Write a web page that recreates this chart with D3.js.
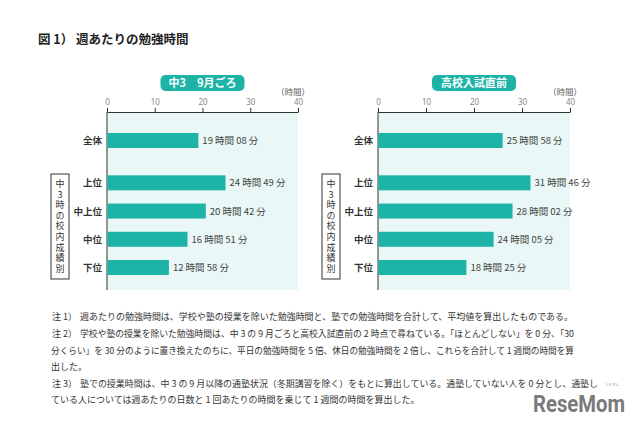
<!DOCTYPE html>
<html><head><meta charset="utf-8">
<script src="https://cdn.jsdelivr.net/npm/d3@7"></script>
<style>
body{margin:0;background:#fff;}
svg{font-family:"Noto Sans CJK JP","Noto Sans",sans-serif;}
</style></head>
<body><svg id="c" width="640" height="426"></svg>
<script>
const categories = ["全体","上位","中上位","中位","下位"];
const categoryPos = [0, 1.5, 2.5, 3.5, 4.5];
const septHours = [19,24,20,16,12];
const septMinutes = [8,49,42,51,58];
const examHours = [25,31,28,24,18];
const examMinutes = [58,46,2,5,25];
const panelTitles = ["中3　9月ごろ","高校入試直前"];
const tickValues = [0,10,20,30,40];
const groupLabel = "中3時の校内成績別";
const notes = [
  ["注 1）","週あたりの勉強時間は、学校や塾の授業を除いた勉強時間と、塾での勉強時間を合計して、平均値を算出したものである。"],
  ["注 2）","学校や塾の授業を除いた勉強時間は、中 3 の 9 月ごろと高校入試直前の 2 時点で尋ねている。「ほとんどしない」を 0 分、「30"],
  ["","分くらい」を 30 分のように置き換えたのちに、平日の勉強時間を 5 倍、休日の勉強時間を 2 倍し、これらを合計して 1 週間の時間を算"],
  ["","出した。"],
  ["注 3）","塾での授業時間は、中 3 の 9 月以降の通塾状況（冬期講習を除く）をもとに算出している。通塾していない人を 0 分とし、通塾し"],
  ["","ている人については週あたりの日数と 1 回あたりの時間を乗じて 1 週間の時間を算出した。"]
];
const noteEnds = [573,574,574,null,598,null];

const svg = d3.select("#c");
const TEAL = "#1db3a6";

svg.append("text").attr("x",38).attr("y",44).attr("font-size",12.5).attr("font-weight","bold")
  .attr("fill","#222").text("図 1）  週あたりの勉強時間");

function pad(m){return (m<10?"0":"")+m;}

function panel(x0, x1, hours, minutes, title){
  const g = svg.append("g");
  const x = d3.scaleLinear().domain([0,40]).range([x0,x1]);
  const y = d3.scaleLinear().domain([0,4.5]).range([133,260]);
  const top = 112, bottom = 290, bh = 15;
  const vals = hours.map((h,i)=>h+minutes[i]/60);
  g.append("rect").attr("x",x(0)).attr("y",top).attr("width",x(40)-x(0)).attr("height",bottom-top).attr("fill","#e9f7f6");
  const pc = (x(0)+x(40))/2;
  g.append("rect").attr("x",pc-42).attr("y",75).attr("width",84).attr("height",16).attr("rx",5).attr("fill",TEAL);
  g.append("text").attr("x",pc).attr("y",87).attr("text-anchor","middle").attr("font-size",11).attr("font-weight","bold").attr("fill","#fff").text(title);
  g.append("text").attr("x",x(40)+12).attr("y",95).attr("text-anchor","end").attr("font-size",8.5).attr("fill","#666").text("（時間）");
  const ax = g.append("g").attr("transform",`translate(0,${top})`)
    .call(d3.axisTop(x).tickValues(tickValues).tickSize(4).tickSizeOuter(0).tickPadding(3));
  ax.select(".domain").attr("stroke","#333");
  ax.selectAll(".tick line").attr("stroke","#333");
  ax.selectAll(".tick text").attr("font-size",8).attr("fill","#888").attr("font-family","Noto Sans, sans-serif");
  g.append("line").attr("x1",x(0)).attr("x2",x(0)).attr("y1",top).attr("y2",bottom).attr("stroke","#333");
  g.selectAll(".bar").data(vals).enter().append("rect")
    .attr("x",x(0)+0.5).attr("y",(d,i)=>y(categoryPos[i])).attr("width",d=>x(d)-x(0)-0.5).attr("height",bh).attr("fill",TEAL);
  g.selectAll(".vl").data(vals).enter().append("text")
    .attr("x",d=>x(d)+4).attr("y",(d,i)=>y(categoryPos[i])+bh/2+3.5).attr("font-size",9.5).attr("fill","#444")
    .text((d,i)=>`${hours[i]} 時間 ${pad(minutes[i])} 分`);
  g.selectAll(".cl").data(categories).enter().append("text")
    .attr("x",x(0)-5).attr("y",(d,i)=>y(categoryPos[i])+bh/2+3.5).attr("text-anchor","end").attr("font-size",9.5).attr("font-weight","bold").attr("fill","#333")
    .text(d=>d);
  const bx = x(0)-56;
  g.append("rect").attr("x",bx).attr("y",174).attr("width",18).attr("height",105).attr("fill","#fff").attr("stroke","#333").attr("stroke-width",1);
  g.append("text").attr("x",bx+9).attr("y",179)
    .style("writing-mode","vertical-rl").style("text-orientation","upright")
    .attr("font-size",9).attr("letter-spacing",1.6).attr("fill","#333").text(groupLabel);
}
panel(107,298,septHours,septMinutes,panelTitles[0]);
panel(378,570,examHours,examMinutes,panelTitles[1]);

const ny = [320,337,354,370,387,403];
notes.forEach((n,i)=>{
  if(n[0]) svg.append("text").attr("x",52).attr("y",ny[i]).attr("font-size",9).attr("fill","#333").text(n[0]);
  const sx = n[0]?80:51;
  const fs = noteEnds[i]===598 ? 8.6 : 9;
  const t = svg.append("text").attr("x",sx).attr("y",ny[i]).attr("font-size",fs).attr("fill","#333").text(n[1]);
  if(noteEnds[i]) t.attr("textLength",noteEnds[i]-sx).attr("lengthAdjust","spacingAndGlyphs");
});
svg.append("text").attr("x",533).attr("y",412).attr("font-size",23).attr("font-weight","bold").attr("fill","#7a7a7a")
  .attr("font-family","Roboto, sans-serif").attr("textLength",92).attr("lengthAdjust","spacingAndGlyphs").text("ReseMom");
svg.append("text").attr("x",605).attr("y",386).attr("font-size",3.5).attr("fill","#888").text("リセマム");
</script></body></html>
